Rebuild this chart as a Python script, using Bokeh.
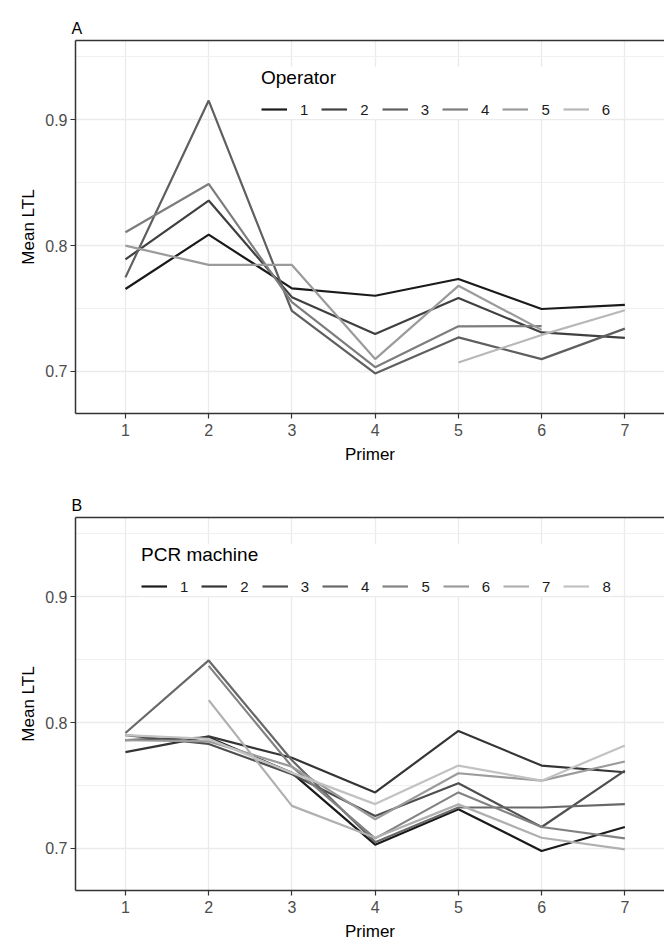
from bokeh.plotting import figure
from bokeh.models import Range1d, FixedTicker, LinearAxis, Legend, LegendItem
from bokeh.layouts import column
from bokeh.embed import file_html
from bokeh.resources import INLINE

nan = float("nan")

primers = [1, 2, 3, 4, 5, 6, 7]
y_ticks = [0.7, 0.8, 0.9]
y_minor = [0.65, 0.75, 0.85, 0.95]

# Panel A: mean LTL per primer for each operator
operator_labels = ["1", "2", "3", "4", "5", "6"]
op1 = [0.7655, 0.8086, 0.7660, 0.7601, 0.7734, 0.7496, 0.7528]
op2 = [0.7890, 0.8357, 0.7590, 0.7297, 0.7583, 0.7310, 0.7266]
op3 = [0.7747, 0.9151, 0.7480, 0.6984, 0.7270, 0.7098, 0.7340]
op4 = [0.8105, 0.8489, 0.7550, 0.7034, 0.7358, 0.7360, nan]
op5 = [0.7999, 0.7846, 0.7846, 0.7098, 0.7680, 0.7330, nan]
op6 = [nan, nan, nan, nan, 0.7071, 0.7290, 0.7486]
operator_series = [op1, op2, op3, op4, op5, op6]

# Panel B: mean LTL per primer for each PCR machine
machine_labels = ["1", "2", "3", "4", "5", "6", "7", "8"]
pcr1 = [0.7860, 0.7880, 0.7600, 0.7030, 0.7312, 0.6980, 0.7170]
pcr2 = [0.7765, 0.7890, 0.7720, 0.7445, 0.7933, 0.7658, 0.7605]
pcr3 = [0.7900, 0.7830, 0.7590, 0.7258, 0.7517, 0.7170, 0.7618]
pcr4 = [0.7917, 0.8493, 0.7700, 0.7050, 0.7325, 0.7325, 0.7352]
pcr5 = [nan, 0.8450, 0.7650, 0.7080, 0.7445, 0.7170, 0.7080]
pcr6 = [0.7860, 0.7850, 0.7650, 0.7232, 0.7597, 0.7538, 0.7690]
pcr7 = [nan, 0.8178, 0.7338, 0.7085, 0.7350, 0.7085, 0.6992]
pcr8 = [0.7900, 0.7870, 0.7600, 0.7352, 0.7658, 0.7538, 0.7818]
machine_series = [pcr1, pcr2, pcr3, pcr4, pcr5, pcr6, pcr7, pcr8]

operator_colors = ["#1a1a1a", "#404040", "#5f5f5f", "#7d7d7d", "#9b9b9b", "#b8b8b8"]
machine_colors = ["#1a1a1a", "#353535", "#4f4f4f", "#686868", "#828282",
                  "#9b9b9b", "#b0b0b0", "#c2c2c2"]

FONT = "Liberation Sans"
BORDER = "#333333"


def make_panel(tag, series, labels, colors, legend_title, legend_loc,
               height, border_top, border_bottom):
    p = figure(width=664, height=height,
               x_range=Range1d(0.4, 7.476), y_range=Range1d(0.6666, 0.9628),
               output_backend="svg", toolbar_location=None,
               min_border_left=75, min_border_right=0,
               min_border_top=border_top, min_border_bottom=border_bottom,
               x_axis_label="Primer", y_axis_label="Mean LTL", title=tag)
    p.outline_line_color = None
    p.background_fill_color = "white"
    p.border_fill_color = "white"

    p.title.align = "left"
    p.title.offset = -4
    p.title.text_font = FONT
    p.title.text_font_size = "16px"
    p.title.text_font_style = "normal"
    p.title.text_color = "#000000"
    p.title.standoff = 8

    p.xaxis.ticker = FixedTicker(ticks=primers)
    p.yaxis.ticker = FixedTicker(ticks=y_ticks, minor_ticks=y_minor)
    for ax in (p.xaxis, p.yaxis):
        ax.axis_line_color = BORDER
        ax.axis_line_width = 1.5
        ax.major_tick_line_color = BORDER
        ax.major_tick_line_width = 1.2
        ax.major_tick_out = 5
        ax.major_tick_in = 0
        ax.minor_tick_line_color = None
        ax.major_label_text_font = FONT
        ax.major_label_text_font_size = "16px"
        ax.major_label_text_color = "#4d4d4d"
        ax.axis_label_text_font = FONT
        ax.axis_label_text_font_size = "17px"
        ax.axis_label_text_font_style = "normal"
        ax.axis_label_text_color = "#000000"
    p.xaxis.major_label_standoff = 5
    p.xaxis.axis_label_standoff = 6
    p.yaxis.major_label_standoff = 3
    p.yaxis.axis_label_standoff = 4

    top = LinearAxis(ticker=FixedTicker(ticks=[]))
    top.axis_line_color = BORDER
    top.axis_line_width = 1.5
    top.major_tick_line_color = None
    top.minor_tick_line_color = None
    top.major_label_text_font_size = "0px"
    p.add_layout(top, "above")

    p.xgrid.grid_line_color = "#ebebeb"
    p.xgrid.grid_line_width = 1.3
    p.ygrid.grid_line_color = "#ebebeb"
    p.ygrid.grid_line_width = 1.3
    p.ygrid.minor_grid_line_color = "#f0f0f0"
    p.ygrid.minor_grid_line_width = 1.0

    items = []
    for lab, vals, col in zip(labels, series, colors):
        r = p.line(primers, vals, line_color=col, line_width=2.2)
        items.append(LegendItem(label=lab, renderers=[r]))

    legend = Legend(items=items, orientation="horizontal", title=legend_title,
                    location=legend_loc)
    legend.background_fill_color = "white"
    legend.background_fill_alpha = 1.0
    legend.border_line_color = None
    legend.margin = 0
    legend.padding = 11
    legend.spacing = 13
    legend.glyph_width = 26
    legend.glyph_height = 20
    legend.label_standoff = 13
    legend.label_width = 0
    legend.label_height = 20
    legend.label_text_font = FONT
    legend.label_text_font_size = "15px"
    legend.label_text_color = "#1a1a1a"
    legend.title_text_font = FONT
    legend.title_text_font_size = "19px"
    legend.title_text_font_style = "normal"
    legend.title_text_color = "#000000"
    legend.title_standoff = 10
    p.add_layout(legend)
    return p


pA = make_panel("A", operator_series, operator_labels, operator_colors,
                "Operator", (186, 294), 470, 40, 57)
pB = make_panel("B", machine_series, machine_labels, machine_colors,
                "PCR machine", (66, 294), 476, 47, 56)

layout = column(pA, pB, spacing=0)
open("out.html", "w").write(file_html(layout, INLINE))
